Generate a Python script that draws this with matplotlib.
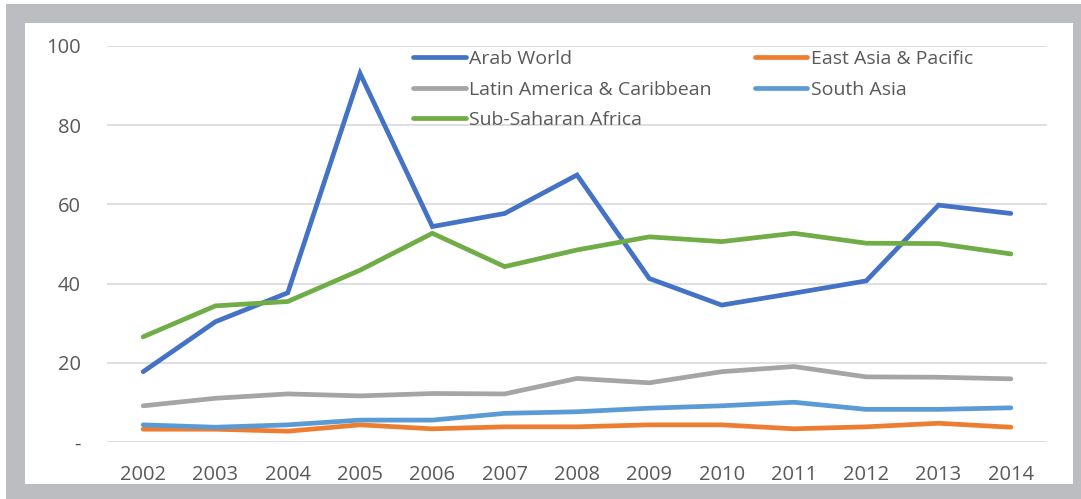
import matplotlib
matplotlib.use("Agg")
import matplotlib.pyplot as plt
from matplotlib.patches import Rectangle

years = ["2002", "2003", "2004", "2005", "2006", "2007", "2008",
         "2009", "2010", "2011", "2012", "2013", "2014"]

arab_world = [17.8, 30.4, 37.7, 93.0, 54.4, 57.7, 67.4, 41.3, 34.6, 37.6, 40.7, 59.8, 57.7]
east_asia_pacific = [3.3, 3.3, 2.8, 4.4, 3.4, 3.9, 3.9, 4.4, 4.4, 3.4, 3.9, 4.8, 3.8]
latin_america = [9.2, 11.1, 12.2, 11.7, 12.3, 12.2, 16.1, 15.0, 17.8, 19.1, 16.5, 16.4, 16.0]
south_asia = [4.4, 3.8, 4.4, 5.6, 5.6, 7.3, 7.7, 8.6, 9.2, 10.1, 8.3, 8.3, 8.7]
sub_saharan = [26.6, 34.4, 35.5, 43.4, 52.7, 44.3, 48.5, 51.8, 50.6, 52.7, 50.2, 50.1, 47.5]

series = [
    ("Arab World", arab_world, "#4472C4"),
    ("East Asia & Pacific", east_asia_pacific, "#ED7D31"),
    ("Latin America & Caribbean", latin_america, "#A5A5A5"),
    ("South Asia", south_asia, "#5B9BD5"),
    ("Sub-Saharan Africa", sub_saharan, "#70AD47"),
]

y_ticks = [0, 20, 40, 60, 80, 100]
y_tick_labels = ["-", "20", "40", "60", "80", "100"]

plt.rcParams["font.family"] = ["Open Sans", "DejaVu Sans"]
text_color = "#595959"

W, H = 1081, 499
fig = plt.figure(figsize=(W / 100, H / 100), dpi=100)
fig.patch.set_facecolor("white")

# grey frame with white panel
fig.patches.append(Rectangle((6 / W, 0), 1 - 6 / W, 1 - 4 / H,
                             transform=fig.transFigure, facecolor="#bcbdc1",
                             edgecolor="none", zorder=-2))
fig.patches.append(Rectangle((25 / W, 1 - 484 / H), (1073 - 25) / W, (484 - 23) / H,
                             transform=fig.transFigure, facecolor="white",
                             edgecolor="none", zorder=-1))

ax = fig.add_axes([107 / W, 1 - 442.3 / H, (1047 - 107) / W, (442.3 - 45.7) / H])
ax.set_facecolor("none")

x = list(range(len(years)))
lines = []
for name, vals, color in series:
    ln, = ax.plot(x, vals, color=color, lw=3.4, label=name, solid_capstyle="round",
                  solid_joinstyle="miter")
    lines.append(ln)

ax.set_xlim(-0.5, len(years) - 0.5)
ax.set_ylim(0, 100)
ax.set_yticks(y_ticks)
ax.set_yticklabels(y_tick_labels)
ax.set_xticks(x)
ax.set_xticklabels(years)
ax.tick_params(axis="both", length=0, labelsize=14.5, colors=text_color)
ax.tick_params(axis="y", pad=19)
ax.tick_params(axis="x", pad=16)
ax.grid(axis="y", color="#d9d9d9", lw=1.2)
ax.set_axisbelow(True)
for s in ax.spines.values():
    s.set_visible(False)

# legend is filled column-wise; order entries so rows read left to right
order = [0, 2, 4, 1, 3]
leg = ax.legend([lines[i] for i in order], [series[i][0] for i in order],
                loc="upper left", bbox_to_anchor=(413 / W, 1 - 50 / H),
                bbox_transform=fig.transFigure, ncol=2, frameon=False,
                fontsize=14, handlelength=2.7, handletextpad=0.2,
                columnspacing=2.2, labelspacing=0.65, borderpad=0,
                borderaxespad=0)
for t in leg.get_texts():
    t.set_color(text_color)

fig.savefig("out.png", dpi=100)
